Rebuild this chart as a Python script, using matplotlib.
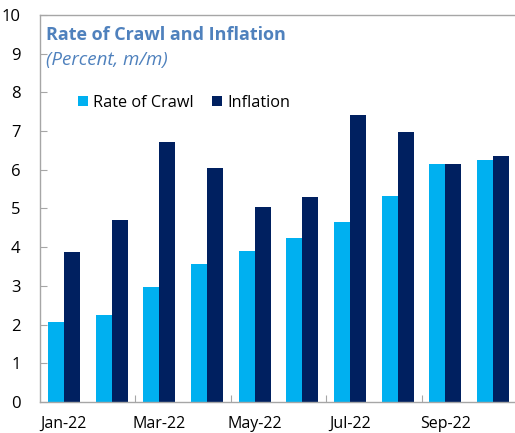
import numpy as np
import matplotlib
matplotlib.use("Agg")
import matplotlib.pyplot as plt

plt.rcParams['font.family'] = ['Open Sans', 'DejaVu Sans']

months = ["Jan-22", "Feb-22", "Mar-22", "Apr-22", "May-22",
          "Jun-22", "Jul-22", "Aug-22", "Sep-22", "Oct-22"]
rate_of_crawl = [2.06, 2.24, 2.96, 3.56, 3.91, 4.23, 4.66, 5.33, 6.16, 6.24]
inflation = [3.88, 4.69, 6.73, 6.05, 5.05, 5.30, 7.41, 6.97, 6.16, 6.35]

CRAWL_COLOR = '#00B0F0'
INFL_COLOR = '#002060'
TITLE_COLOR = '#4F81BD'
AXIS_COLOR = '#A6A6A6'

fig = plt.figure(figsize=(5.15, 4.33), dpi=100)
ax = fig.add_axes([0.0777, 0.0716, 0.9223, 0.8938])

x = np.arange(len(months))
w = 0.335
ax.bar(x - w / 2, rate_of_crawl, w, color=CRAWL_COLOR, label='Rate of Crawl')
ax.bar(x + w / 2, inflation, w, color=INFL_COLOR, label='Inflation')

ax.set_xlim(-0.5, 9.46)
ax.set_ylim(0, 10)
ax.set_yticks(range(0, 11))

# labels on every other month, tick marks between the labelled pairs
ax.set_xticks(x[::2])
ax.set_xticklabels(months[::2])
ax.set_xticks([1.5, 3.5, 5.5, 7.5], minor=True)
ax.tick_params(axis='x', which='major', length=0, pad=10, labelsize=11.5)
ax.tick_params(axis='x', which='minor', direction='in', length=5,
               color=AXIS_COLOR, width=0.8)
ax.tick_params(axis='y', direction='in', length=5, color=AXIS_COLOR,
               width=0.8, pad=14, labelsize=12)

for side in ['left', 'bottom', 'top']:
    ax.spines[side].set_color(AXIS_COLOR)
    ax.spines[side].set_linewidth(1.0)
ax.spines['right'].set_visible(False)

fig.text(46 / 515, 1 - 40 / 433, 'Rate of Crawl and Inflation',
         fontsize=13, fontweight='bold', color=TITLE_COLOR, va='baseline')
fig.text(46 / 515, 1 - 65 / 433, '(Percent, m/m)',
         fontsize=13.5, style='italic', color=TITLE_COLOR, va='baseline')

ax.legend(loc='upper left', bbox_to_anchor=(78 / 515, 1 - 95 / 433),
          bbox_transform=fig.transFigure, ncol=2, frameon=False,
          fontsize=11.7, handlelength=0.6, handleheight=0.6,
          handletextpad=0.35, columnspacing=1.1, borderaxespad=0,
          borderpad=0)

fig.savefig('out.png', dpi=100)
